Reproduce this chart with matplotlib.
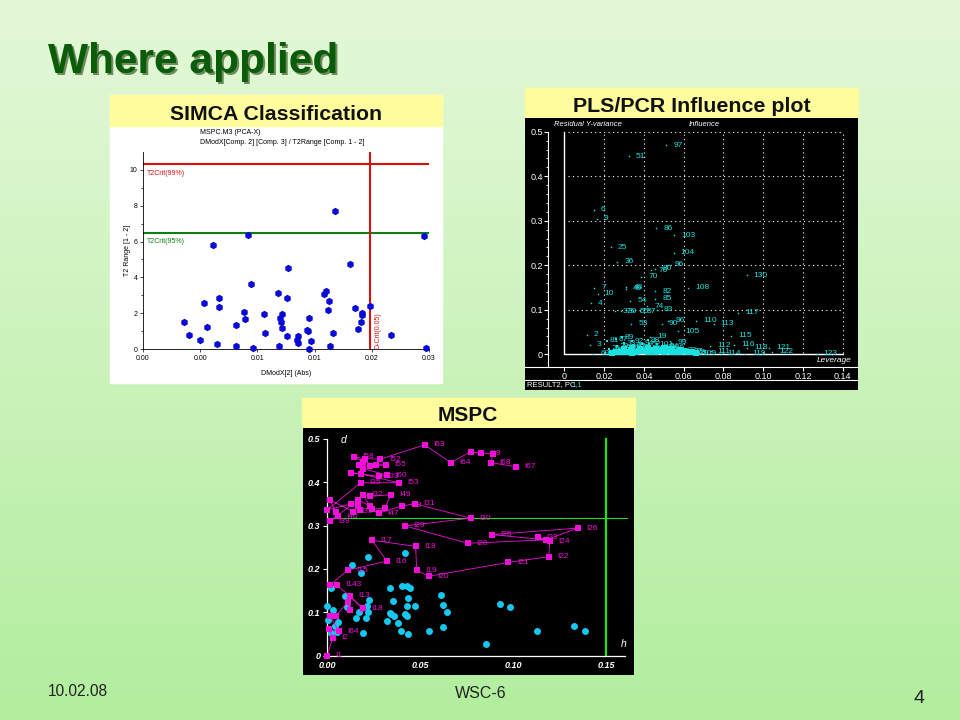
import numpy as np
import matplotlib
matplotlib.use("Agg")
import matplotlib.pyplot as plt
from matplotlib.patches import Rectangle

W, H = 960, 720
OUTPUT_IMAGE = "out.png"

YELLOW = "#FFFC9E"
CYAN = "#19E3E0"
MAGENTA = "#F010D8"
SPOT = "#16C8F0"

# SIMCA panel
simca_x = [.00358, .00402, .00498, .00533, .00562, .00647, .00664, .00664, .00615, .00813,
           .00813, .00886, .00892, .00918, .00944, .00964, .01058, .01069, .0118, .01189,
           .01198, .01206, .01212, .01218, .01259, .01259, .01267, .01346, .01355, .01355,
           .01436, .01445, .01448, .01451, .01469, .01585, .016, .01614, .01626, .01632,
           .01661, .01678, .01809, .01853, .01879, .01903, .01917, .01917, .01984, .02168,
           .02456, .02471]
simca_y = [1.51, .80, .52, 2.58, 1.21, .30, 2.86, 2.36, 5.78, 1.36,
           .19, 2.06, 1.69, 6.39, 3.64, .04, 1.97, .89, 3.14, .19,
           1.73, 1.49, 1.19, 1.97, .74, 2.84, 4.54, .50, .74, .32,
           1.08, 1.02, 1.71, 0, .46, 3.09, 3.25, 2.19, 2.70, .19,
           .91, 7.68, 4.74, 2.30, 1.12, 1.52, 1.99, 1.88, 2.42, .76,
           6.32, .07]
simca_xticks = [0, .005, .01, .015, .02, .025]
simca_xlabels = ["0.00", "0.00", "0.01", "0.01", "0.02", "0.03"]
simca_yticks = [0, 2, 4, 6, 8, 10]
T2_99 = 10.33
T2_95 = 6.49
D_CRIT = .0198

# Influence panel
infl_ids = ["97", "51", "6", "9", "86", "103", "25", "104", "36", "96", "76", "80", "70", "130",
            "7", "10", "108", "48", "49", "82", "85", "54", "4", "74", "83", "117", "37", "39",
            "55", "57", "96", "90", "110", "113", "53", "105", "115", "2", "19", "99", "112",
            "116", "118", "121", "122", "119", "123", "114", "111", "3", "69"]
infl_x = [.0513, .0323, .0148, .0165, .0463, .0552, .0233, .055, .0267, .052, .0437, .0457, .0387, .0917,
          .015, .0167, .0622, .0312, .0308, .0457, .0457, .0332, .0132, .0418, .0465, .0873, .0257, .0285,
          .0345, .038, .0523, .049, .0663, .0752, .0337, .0573, .0840, .0113, .0433, .0537, .0733,
          .0853, .092, .103, .1045, .091, .127, .0787, .0737, .0128, .0145]
infl_y = [.470, .4455, .325, .3045, .283, .267, .240, .228, .2075, .2015, .189, .1925, .174, .177,
          .149, .136, .149, .151, .147, .1416, .125, .1206, .114, .108, .100, .0936, .0966, .0966,
          .0966, .0966, .0755, .068, .0755, .068, .068, .0517, .0412, .044, .0397, .0255, .0195,
          .0217, .0142, .0142, .0052, .0015, .0015, .0008, .0067, .0217, .0015]
low_ids = ["24", "26", "28", "29", "31", "33", "34", "38", "40", "41", "44", "46", "47", "50",
           "52", "56", "58", "60", "61", "62", "64", "65", "66", "68", "71", "72", "73", "75",
           "77", "78", "79", "81", "84", "87", "88", "89", "91", "92", "93", "94", "95", "98",
           "100", "101", "102", "106", "107", "109"]
low_x = [.0205, .0225, .0245, .0265, .0285, .03, .0315, .033, .0345, .0355, .037, .038, .0395, .041,
         .0425, .044, .0455, .047, .0485, .05, .0515, .053, .0545, .056, .0575, .059, .0605, .062,
         .0635, .065, .0665, .0215, .024, .026, .0275, .029, .0325, .034, .0365, .039, .0405, .042,
         .0435, .0465, .049, .052, .0555, .068]
low_y = [.002, .012, .004, .018, .003, .025, .007, .001, .02, .009, .003, .016, .006, .001,
         .022, .004, .011, .002, .014, .005, .018, .002, .008, .001, .006, .003, .009, .002,
         .005, .003, .001, .03, .008, .034, .012, .038, .014, .029, .01, .024, .002, .031,
         .006, .022, .009, .016, .004, .001]
# solid run of points along the zero line
base_x = [.024, .026, .028, .03, .032, .034, .036, .038, .04, .042, .044, .046, .048, .05,
          .052, .054, .056, .058, .06, .062, .064, .066, .03, .034, .038, .042, .046, .05, .054, .058]
base_y = [.003, .004, .005, .004, .006, .003, .005, .007, .008, .006, .009, .005, .007, .006,
          .008, .004, .006, .005, .007, .006, .004, .003, .012, .014, .011, .015, .012, .013, .011, .01]
infl_xticks = [0, .02, .04, .06, .08, .10, .12, .14]
infl_xlabels = ["0", "0.02", "0.04", "0.06", "0.08", "0.10", "0.12", "0.14"]
infl_yticks = [0, .1, .2, .3, .4, .5]
infl_ylabels = ["0", "0.1", "0.2", "0.3", "0.4", "0.5"]

# MSPC panel, path in time order
mspc_ids = ["I1", "I2", "", "I64", "", "", "", "I8", "", "I18", "I13", "I143", "", "I15", "I16",
            "I17", "I18", "I19", "I20", "I21", "I22", "I24", "I23", "", "I25", "I26", "", "I28",
            "I29", "I30", "I31", "I48", "I47", "", "", "I49", "", "I32", "", "", "I39", "I40", "",
            "", "I33", "", "", "", "", "I35", "I53", "", "", "I33", "I60", "", "", "", "I55", "",
            "", "I58", "", "I52", "I63", "I64", "", "I69", "", "I68", "I67"]
mspc_x = [0, .0029, .001, .0064, .0014, .0046, .0109, .012, .012, .019, .012, .005, .0014, .011, .032,
          .024, .0475, .048, .0545, .0973, .1188, .1196, .113, .1175, .0882, .1346, .1175, .0754,
          .0418, .077, .047, .04, .0277, .0238, .031, .0341, .0229, .0193, .0229, .0166, .0014, .0059, .0046,
          .0014, .0139, .0175, .0166, .013, 0, .018, .0384, .018, .013, .0277, .0323, .0193, .0171, .0229, .0314, .0264,
          .0193, .0143, .0202, .0286, .0523, .0663, .077, .0823, .0889, .088, .1011]
mspc_y = [0, .0415, .061, .056, .0915, .0915, .123, .105, .138, .109, .138, .163, .163, .197, .218,
          .266, .252, .197, .183, .215, .228, .264, .273, .267, .279, .294, .267, .259,
          .299, .317, .35, .345, .3285, .338, .34, .371, .367, .371, .345, .359, .31, .321, .332,
          .359, .332, .336, .345, .35, .336, .3985, .3985, .419, .4215, .413, .416, .431, .44, .436, .44, .44,
          .447, .4585, .454, .453, .486, .445, .47, .467, .465, .445, .4354]
spot_x = [.0018, .0134, .0218, .042, .0184, .0336, .0402, .0429, .0443, .0098, .0227, .0352, .0434,
          .0611, .062, .043, .0473, .0929, .098, .0641, 0, .0032, .0107, .0211, .017, .022, .0152,
          .0209, .0336, .0345, .0359, .0416, .043, .0323, .038, .0005, .0059, .0041, .0623, .0398,
          .0434, .0545, .0193, .0023, .005, .0854, .1327, .1386, .1127]
spot_y = [.155, .209, .228, .237, .1915, .157, .161, .1615, .157, .138, .1285, .127, .134,
          .14, .117, .115, .115, .119, .113, .101, .115, .105, .113, .115, .1, .1, .088,
          .088, .098, .095, .0915, .096, .0915, .08, .0754, .082, .077, .069, .066, .057,
          .05, .057, .052, .0515, .055, .027, .0685, .057, .057]
mspc_xticks = [0, .05, .10, .15]
mspc_xlabels = ["0.00", "0.05", "0.10", "0.15"]
mspc_yticks = [0, .1, .2, .3, .4, .5]
mspc_ylabels = ["0", "0.1", "0.2", "0.3", "0.4", "0.5"]


def px_axes(fig, left, top, right, bottom, **kwargs):
    return fig.add_axes([left / W, 1 - bottom / H, (right - left) / W, (bottom - top) / H], **kwargs)


def px_text(fig, x, y, s, **kwargs):
    fig.text(x / W, 1 - y / H, s, **kwargs)


plt.rcParams["font.family"] = ["Liberation Sans", "DejaVu Sans"]
fig = plt.figure(figsize=(W / 100, H / 100), dpi=100)

# slide background
bg = px_axes(fig, 0, 0, W, H)
top_col = np.array([228, 248, 216]) / 255
bot_col = np.array([178, 238, 158]) / 255
grad = np.linspace(0, 1, 256)[:, None, None] * (bot_col - top_col) + top_col
bg.imshow(grad, aspect="auto", extent=[0, W, H, 0])
bg.set_axis_off()
bg.add_patch(Rectangle((110, 95), 332, 288, color="white"))
bg.add_patch(Rectangle((110, 95), 332, 31, color=YELLOW))
bg.add_patch(Rectangle((525, 88), 333, 30, color=YELLOW))
bg.add_patch(Rectangle((302, 398), 333, 30, color=YELLOW))

px_text(fig, 50, 75.5, "Where applied", fontsize=30.5, fontweight="bold", color="#6F8A5C")
px_text(fig, 48, 73.5, "Where applied", fontsize=30.5, fontweight="bold", color="#0A5C0A")
px_text(fig, 276, 114, "SIMCA Classification", fontsize=15.3, fontweight="bold", ha="center", va="center", color="#111111")
px_text(fig, 692, 107, "PLS/PCR Influence plot", fontsize=15.4, fontweight="bold", ha="center", va="center", color="#111111")
px_text(fig, 468, 416, "MSPC", fontsize=15, fontweight="bold", ha="center", va="center", color="#111111")
px_text(fig, 48, 696, "10.02.08", fontsize=11.2, color="#222222")
px_text(fig, 455, 698, "WSC-6", fontsize=11.5, color="#222222")
px_text(fig, 913, 703, "4", fontsize=14, color="#222222")

# SIMCA
ax = px_axes(fig, 143, 152, 429, 349)
ax.patch.set_alpha(0)
ax.set_xlim(0, .025)
ax.set_ylim(0, 11)
ax.plot(simca_x, simca_y, "h", color="#0A0AD6", ms=4.2, clip_on=False, zorder=4)
ax.axhline(T2_99, color="#D81010", lw=1.5)
ax.axhline(T2_95, color="#0E8012", lw=1.5)
ax.axvline(D_CRIT, color="#D81010", lw=1.5)
ax.text(.0003, 9.82, "T2Crit(99%)", color="#D81010", fontsize=5, va="center")
ax.text(.0003, 6.0, "T2Crit(95%)", color="#0E8012", fontsize=5, va="center")
ax.text(.0205, 1.0, "D-Crit(0.05)", color="#D81010", fontsize=5, rotation=90, va="center", ha="center")
ax.spines[["top", "right"]].set_visible(False)
ax.spines[["left", "bottom"]].set_linewidth(.6)
ax.set_xticks(simca_xticks, simca_xlabels)
ax.set_yticks(simca_yticks)
ax.set_yticks(np.arange(1, 11, 2), minor=True)
ax.tick_params(labelsize=5, length=2.5, width=.5, pad=1.5)
ax.tick_params(which="minor", length=1.5, width=.5)
ax.set_xlabel("DModX[2] (Abs)", fontsize=5, labelpad=6)
ax.set_ylabel("T2 Range [1 - 2]", fontsize=5, labelpad=-1)
px_text(fig, 200, 134, "MSPC.M3 (PCA-X)", fontsize=5)
px_text(fig, 200, 143.5, "DModX[Comp. 2] [Comp. 3] / T2Range [Comp. 1 - 2]", fontsize=5)

# Influence plot
ax = px_axes(fig, 525, 118, 858, 390, facecolor="black")
ax.set_xlim(-.0198, .1477)
ax.set_ylim(-.0805, .531)
ax.hlines(infl_yticks[1:], 0.002, .14, color="white", lw=.8, linestyles=(0, (1, 3)))
ax.vlines(infl_xticks[1:], 0.002, .5, color="white", lw=.8, linestyles=(0, (1, 3)))
ax.plot([0, 0, .14], [.5, 0, 0], color="white", lw=1)
ax.plot(infl_x, infl_y, "s", color=CYAN, ms=1, mew=0)
ax.plot(low_x, low_y, "s", color=CYAN, ms=2, mew=0)
ax.plot(base_x, base_y, "s", color=CYAN, ms=4, mew=0)
for name, x, y in zip(infl_ids, infl_x, infl_y):
    ax.annotate(name, (x, y), xytext=(5, 0), textcoords="offset points", color=CYAN, fontsize=6, va="center")
for name, x, y in zip(low_ids, low_x, low_y):
    ax.annotate(name, (x, y), xytext=(2, 0), textcoords="offset points", color=CYAN, fontsize=6, va="center")
ax.spines[["top", "right"]].set_visible(False)
ax.spines["left"].set_position(("data", -.008))
ax.spines["left"].set_bounds(-.0285, .5)
ax.spines["bottom"].set_position(("data", -.0285))
ax.spines[["left", "bottom"]].set_color("white")
ax.spines[["left", "bottom"]].set_linewidth(.8)
ax.set_xticks(infl_xticks, infl_xlabels)
ax.set_yticks(infl_yticks, infl_ylabels)
ax.set_yticks(np.arange(0, .5, .02), minor=True)
ax.tick_params(colors="white", labelsize=6.5, length=3, width=.8, pad=1)
ax.tick_params(which="minor", colors="white", length=1.5, width=.6)
ax.axhline(-.0575, color="white", lw=.8)
ax.text(-.0052, .516, "Residual Y-variance", color="white", fontsize=5.5, style="italic", va="center", ha="left")
ax.text(.0704, .516, "Influence", color="white", fontsize=5.5, style="italic", va="center", ha="center")
ax.text(.1445, -.015, "Leverage", color="white", fontsize=6, style="italic", va="center", ha="right")
ax.text(-.0188, -.069, "RESULT2, PC", color="white", fontsize=5.5, va="center")
ax.text(.0035, -.069, "1,1", color=CYAN, fontsize=5.5, va="center")

# MSPC
ax = px_axes(fig, 303, 428, 634, 675, facecolor="black")
ax.set_xlim(-.013, .1647)
ax.set_ylim(-.0445, .5247)
ax.plot([.1497, .1497], [0, .5], color="#22E010", lw=1.6)
ax.plot([0, .161], [.317, .317], color="#22E010", lw=.8)
ax.plot(spot_x, spot_y, "o", color=SPOT, ms=5, mew=0, zorder=3)
ax.plot(mspc_x, mspc_y, "-", color=MAGENTA, lw=.6, zorder=4)
ax.plot(mspc_x, mspc_y, "s", color=MAGENTA, ms=4.3, mew=0, zorder=5)
for name, x, y in zip(mspc_ids, mspc_x, mspc_y):
    if name:
        ax.annotate(name, (x, y), xytext=(6, 0), textcoords="offset points", color=MAGENTA, fontsize=6, va="center", zorder=6)
ax.spines[["top", "right"]].set_visible(False)
ax.spines["left"].set_position(("data", 0))
ax.spines["left"].set_bounds(0, .5)
ax.spines["bottom"].set_position(("data", 0))
ax.spines["bottom"].set_bounds(0, .16)
ax.spines[["left", "bottom"]].set_color("white")
ax.spines[["left", "bottom"]].set_linewidth(.9)
ax.set_xticks(mspc_xticks, mspc_xlabels)
ax.set_yticks(mspc_yticks, mspc_ylabels)
ax.tick_params(axis="x", length=0, pad=4)
ax.tick_params(axis="y", length=3, width=.8, pad=2)
ax.tick_params(colors="white", labelsize=6.5)
for lab in ax.get_xticklabels() + ax.get_yticklabels():
    lab.set_fontstyle("italic")
    lab.set_fontweight("bold")
ax.text(.007, .497, "d", color="white", fontsize=7.5, style="italic", va="center")
ax.text(.1577, .028, "h", color="white", fontsize=7.5, style="italic", va="center")

fig.savefig(OUTPUT_IMAGE, dpi=100)
plt.close(fig)
